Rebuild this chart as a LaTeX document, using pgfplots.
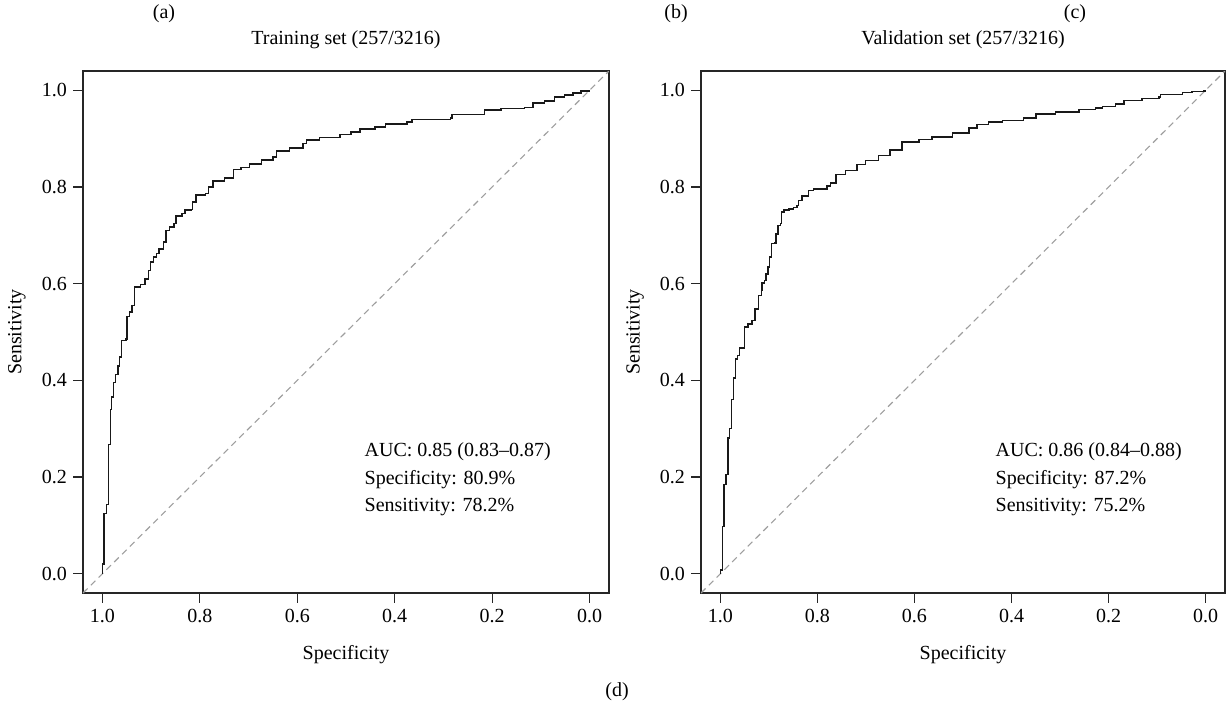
\documentclass[border=0pt]{standalone}
\usepackage{fontspec}
\setmainfont{Liberation Serif}
\usepackage{pgfplots}
\pgfplotsset{compat=1.18}

% Common look of the two ROC panels (x axis = specificity, reversed)
\pgfplotsset{
  rocaxis/.style={
    scale only axis,
    height=522pt,
    x dir=reverse,
    xmin=-0.04, xmax=1.04,
    ymin=-0.04, ymax=1.04,
    xtick={0,0.2,0.4,0.6,0.8,1},
    xticklabels={0.0,0.2,0.4,0.6,0.8,1.0},
    ytick={0,0.2,0.4,0.6,0.8,1},
    yticklabels={0.0,0.2,0.4,0.6,0.8,1.0},
    xtick pos=left, ytick pos=left,
    tick align=outside,
    major tick length=9.5pt,
    tick style={line width=1.2pt, color=black!85},
    axis line style={line width=1.3pt, color=black!85},
    xticklabel style={yshift=-3pt},
    yticklabel style={xshift=-3pt},
    every axis title/.style={at={(axis description cs:0.5,1.0594)}, anchor=center},
    every axis x label/.style={at={(axis description cs:0.5,-0.1188)}, anchor=center},
    every axis y label/.style={at={(axis description cs:-0.1255,0.5)}, anchor=center, rotate=90},
    xlabel={Specificity},
    ylabel={Sensitivity},
    clip=true,
  },
  % empirical ROC: horizontal run to the next threshold, then the vertical jump
  roccurve/.style={const plot, line width=1.5pt, color=black!90, line join=miter},
  chance/.style={line width=1.1pt, color=black!38, dash pattern=on 6.5pt off 4.5pt},
}

\begin{document}
\begin{tikzpicture}[font=\fontsize{20}{24}\selectfont]
\useasboundingbox (0pt,0pt) rectangle (1226pt,-707pt);

% ---------------- Training set ----------------
\begin{axis}[rocaxis, at={(83pt,-593pt)}, anchor=south west, width=526pt,
  title={Training set (257/3216)}]
\addplot[chance] coordinates {(1.04,-0.04) (-0.04,1.04)};
\addplot[roccurve] coordinates {
(1.000,0.000) (1.000,0.020) (0.997,0.020) (0.997,0.124) (0.992,0.124)
(0.992,0.143) (0.988,0.143) (0.988,0.267) (0.984,0.267) (0.984,0.340)
(0.981,0.340) (0.981,0.366) (0.977,0.366) (0.977,0.396) (0.973,0.396)
(0.973,0.412) (0.968,0.412) (0.968,0.430) (0.965,0.430) (0.965,0.448)
(0.961,0.448) (0.961,0.482) (0.952,0.486) (0.950,0.493) (0.950,0.532)
(0.944,0.541) (0.939,0.555) (0.934,0.565) (0.934,0.593) (0.922,0.598)
(0.913,0.610) (0.906,0.627) (0.901,0.645) (0.895,0.655) (0.889,0.662)
(0.884,0.672) (0.875,0.686) (0.870,0.690) (0.870,0.710) (0.862,0.717)
(0.853,0.724) (0.849,0.740) (0.837,0.745) (0.831,0.752) (0.817,0.753)
(0.815,0.769) (0.808,0.783) (0.788,0.787) (0.782,0.800) (0.773,0.812)
(0.749,0.819) (0.731,0.836) (0.716,0.840) (0.698,0.848) (0.674,0.856)
(0.650,0.862) (0.643,0.874) (0.616,0.881) (0.588,0.890) (0.581,0.897)
(0.554,0.902) (0.512,0.909) (0.490,0.914) (0.471,0.920) (0.440,0.924)
(0.419,0.930) (0.375,0.934) (0.364,0.940) (0.285,0.943) (0.282,0.950)
(0.216,0.959) (0.182,0.962) (0.134,0.965) (0.116,0.974) (0.092,0.978)
(0.072,0.986) (0.051,0.990) (0.034,0.995) (0.017,0.999) (0.000,1.000)
};
\node[anchor=base west, inner sep=0pt] at (axis cs:0.462,0.242) {AUC: 0.85 (0.83--0.87)};
\node[anchor=base west, inner sep=0pt] at (axis cs:0.462,0.185) {Specificity: 80.9\%};
\node[anchor=base west, inner sep=0pt] at (axis cs:0.462,0.129) {Sensitivity: 78.2\%};
\end{axis}

% ---------------- Validation set ----------------
\begin{axis}[rocaxis, at={(701pt,-593pt)}, anchor=south west, width=524pt,
  title={Validation set (257/3216)}]
\addplot[chance] coordinates {(1.04,-0.04) (-0.04,1.04)};
\addplot[roccurve] coordinates {
(1.000,0.000) (1.000,0.008) (0.996,0.008) (0.996,0.098) (0.9925,0.098)
(0.9925,0.184) (0.988,0.184) (0.988,0.205) (0.984,0.205) (0.984,0.281)
(0.981,0.281) (0.981,0.300) (0.977,0.300) (0.977,0.360) (0.973,0.360)
(0.973,0.405) (0.969,0.405) (0.969,0.444) (0.965,0.444) (0.965,0.451)
(0.961,0.451) (0.961,0.467) (0.950,0.467) (0.950,0.510) (0.943,0.517)
(0.935,0.524) (0.929,0.548) (0.922,0.551) (0.921,0.576) (0.915,0.586)
(0.914,0.601) (0.909,0.607) (0.906,0.620) (0.902,0.634) (0.899,0.655)
(0.895,0.683) (0.888,0.684) (0.885,0.703) (0.881,0.720) (0.876,0.724)
(0.874,0.748) (0.869,0.752) (0.859,0.755) (0.849,0.758) (0.842,0.762)
(0.839,0.772) (0.832,0.781) (0.818,0.793) (0.808,0.796) (0.780,0.802)
(0.773,0.808) (0.762,0.826) (0.742,0.834) (0.718,0.847) (0.701,0.855)
(0.674,0.865) (0.650,0.877) (0.626,0.893) (0.591,0.898) (0.564,0.903)
(0.522,0.912) (0.488,0.922) (0.471,0.929) (0.447,0.934) (0.419,0.938)
(0.375,0.943) (0.350,0.951) (0.309,0.955) (0.261,0.960) (0.227,0.963)
(0.213,0.967) (0.186,0.972) (0.168,0.979) (0.131,0.983) (0.096,0.986)
(0.093,0.991) (0.048,0.996) (0.028,0.998) (0.004,0.999) (0.000,1.000)
};
\node[anchor=base west, inner sep=0pt] at (axis cs:0.433,0.242) {AUC: 0.86 (0.84--0.88)};
\node[anchor=base west, inner sep=0pt] at (axis cs:0.433,0.185) {Specificity: 87.2\%};
\node[anchor=base west, inner sep=0pt] at (axis cs:0.433,0.129) {Sensitivity: 75.2\%};
\end{axis}

% Panel letters
\node at (164pt,-14pt) {(a)};
\node at (676pt,-14pt) {(b)};
\node at (1075pt,-14pt) {(c)};
\node at (617pt,-692pt) {(d)};
\end{tikzpicture}
\end{document}
